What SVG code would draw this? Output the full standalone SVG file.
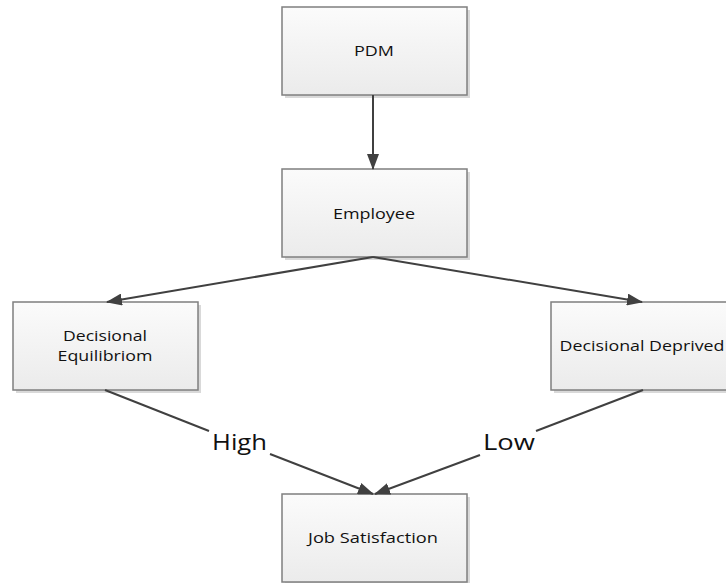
<svg xmlns="http://www.w3.org/2000/svg" width="726" height="583" viewBox="0 0 726 583">
  <style>
    .box { fill: url(#boxFill); stroke: #7f7f7f; stroke-width: 1.5; }
    .shadow { fill: #d9d9d9; }
    .label { font-family: "Open Sans", "Liberation Sans", sans-serif; font-size: 14px; fill: #111; text-anchor: middle; }
    .edge-label { font-family: "Open Sans", "Liberation Sans", sans-serif; font-size: 21px; fill: #111; }
    .edge { stroke: #404040; stroke-width: 2; fill: none; marker-end: url(#arrow); }
    .edge-plain { stroke: #404040; stroke-width: 2; fill: none; }
  </style>
  <defs>
    <linearGradient id="boxFill" x1="0" y1="0" x2="0" y2="1">
      <stop offset="0" stop-color="#fbfbfb"/>
      <stop offset="1" stop-color="#ebebeb"/>
    </linearGradient>
    <marker id="arrow" markerWidth="16" markerHeight="12" refX="15" refY="6" orient="auto" markerUnits="userSpaceOnUse">
      <path d="M0,0 L16,6 L0,12 Z" fill="#404040"/>
    </marker>
  </defs>

  <rect width="726" height="583" fill="#ffffff"/>

  <g id="pdm">
    <rect class="shadow" x="285" y="10" width="185" height="88"/>
    <rect class="box" x="282" y="7" width="185" height="88"/>
    <text class="label" x="374" y="56" textLength="40" lengthAdjust="spacingAndGlyphs">PDM</text>
  </g>

  <g id="employee">
    <rect class="shadow" x="285" y="172" width="185" height="88"/>
    <rect class="box" x="282" y="169" width="185" height="88"/>
    <text class="label" x="374" y="219" textLength="82" lengthAdjust="spacingAndGlyphs">Employee</text>
  </g>

  <g id="decisional-equilibriom">
    <rect class="shadow" x="16" y="305" width="185" height="88"/>
    <rect class="box" x="13" y="302" width="185" height="88"/>
    <text class="label" x="105" y="341" textLength="84" lengthAdjust="spacingAndGlyphs">Decisional</text>
    <text class="label" x="105" y="361" textLength="95" lengthAdjust="spacingAndGlyphs">Equilibriom</text>
  </g>

  <g id="decisional-deprived">
    <rect class="shadow" x="554" y="305" width="185" height="88"/>
    <rect class="box" x="551" y="302" width="185" height="88"/>
    <text class="label" x="642" y="351" textLength="165" lengthAdjust="spacingAndGlyphs">Decisional Deprived</text>
  </g>

  <g id="job-satisfaction">
    <rect class="shadow" x="285" y="497" width="185" height="88"/>
    <rect class="box" x="282" y="494" width="185" height="88"/>
    <text class="label" x="373" y="543" textLength="130" lengthAdjust="spacingAndGlyphs">Job Satisfaction</text>
  </g>

  <g id="connectors">
    <line class="edge" x1="373" y1="95" x2="373" y2="169"/>
    <line class="edge" x1="373" y1="257" x2="107" y2="302"/>
    <line class="edge" x1="373" y1="257" x2="642" y2="302"/>
    <!-- High branch, broken around its label -->
    <line class="edge-plain" x1="105" y1="390" x2="209" y2="431"/>
    <line class="edge" x1="270" y1="454" x2="373" y2="494"/>
    <text class="edge-label" x="212" y="450" textLength="55" lengthAdjust="spacingAndGlyphs">High</text>
    <!-- Low branch, broken around its label -->
    <line class="edge-plain" x1="643" y1="390" x2="536" y2="431"/>
    <line class="edge" x1="480" y1="455" x2="375" y2="494"/>
    <text class="edge-label" x="483" y="450" textLength="52" lengthAdjust="spacingAndGlyphs">Low</text>
  </g>
</svg>
